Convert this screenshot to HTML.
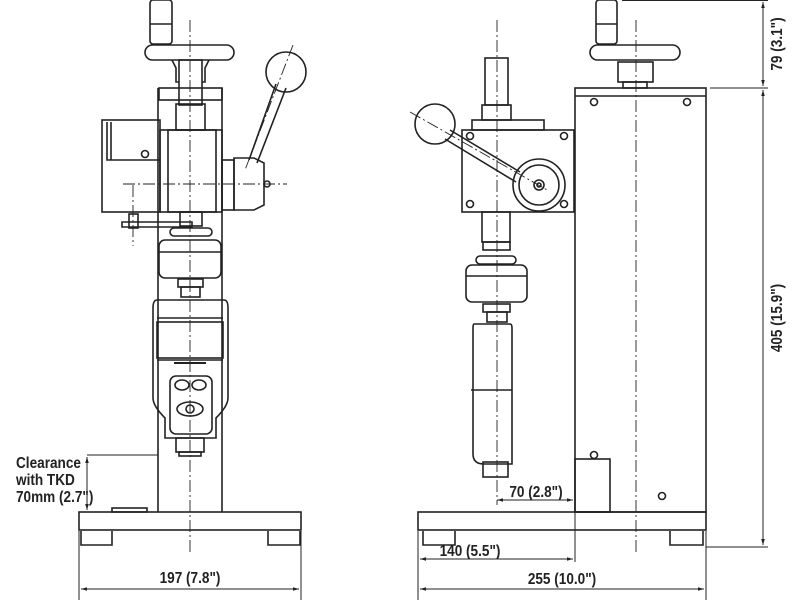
<!DOCTYPE html>
<html><head><meta charset="utf-8"><style>
html,body{margin:0;padding:0;background:#fff;width:800px;height:600px;overflow:hidden}
svg{display:block}
text{font-family:"Liberation Sans",sans-serif;font-weight:bold;fill:#222;font-size:16px}
</style></head><body>
<svg width="800" height="600" viewBox="0 0 800 600" xmlns="http://www.w3.org/2000/svg">
<defs>
<marker id="a" viewBox="0 0 10 10" refX="10" refY="5" markerWidth="6" markerHeight="6" orient="auto-start-reverse"><path d="M0,2 L10,5 L0,8 z" fill="#222"/></marker>
</defs>
<g fill="none" stroke="#222" stroke-width="1.6">
<!-- LEFT VIEW -->
<rect x="79" y="512" width="222" height="18"/>
<path d="M81 531 v14 h31 v-14 M268 531 v14 h32 v-14"/>
<rect x="112" y="508" width="35" height="4"/>
<path d="M158 88 V512 M222 88 V512"/>
<rect x="150" y="0" width="22" height="44" rx="3"/>
<line x1="150" y1="24" x2="172" y2="24"/>
<rect x="145" y="45" width="89" height="15" rx="7.5"/>
<rect x="179" y="60" width="23" height="45"/>
<path d="M172 60 l4 8 v14 h3 M209 60 l-4 8 v14 h-3"/>
<rect x="159" y="88" width="63" height="12"/>
<rect x="176" y="104" width="29" height="26"/>
<rect x="160" y="130" width="62" height="82"/>
<rect x="168" y="130" width="48" height="82"/>
<rect x="102" y="120" width="58" height="92"/>
<path d="M107 122 v38 h4 v-38 M111 160 h49"/>
<circle cx="145" cy="154" r="3.5"/>
<rect x="222" y="160" width="12" height="50"/>
<path d="M234 158 h20 l10 5 v42 l-10 5 h-20 z"/>
<circle cx="267" cy="184" r="3"/>
<path d="M249 160 L276 84 M257 163 L286 88"/>
<circle cx="286" cy="72" r="20"/>
<path d="M122 222 h70 v5 h-70 z"/>
<rect x="129" y="214" width="9" height="14"/>
<rect x="180" y="212" width="22" height="14"/>
<rect x="170" y="228" width="42" height="8" rx="4"/>
<rect x="159" y="240" width="62" height="38" rx="6"/>
<line x1="159" y1="252" x2="221" y2="252"/>
<rect x="178" y="279" width="25" height="8"/>
<rect x="181" y="287" width="19" height="10"/>
<path d="M157 300 q-4 0 -4 8 v90 q0 8 12 20 v20 h51 v-20 q12 -12 12 -20 v-90 q0 -8 -4 -8 z"/>
<rect x="157" y="322" width="66" height="36"/>
<path d="M157 318 h66 M157 360 h66"/>
<line x1="174" y1="363" x2="206" y2="363" stroke-width="2"/>
<rect x="170" y="376" width="42" height="58" rx="6"/>
<ellipse cx="182" cy="385" rx="7" ry="5"/>
<ellipse cx="199" cy="385" rx="7" ry="5"/>
<ellipse cx="190" cy="409" rx="13" ry="7"/>
<circle cx="190" cy="409" r="4"/>
<rect x="176" y="438" width="28" height="14"/>
<rect x="179" y="452" width="22" height="4"/>
<!-- LEFT DIMS -->
<path d="M87 455 H158" stroke-width="1"/>
<line x1="87" y1="457" x2="87" y2="510" stroke-width="1" marker-start="url(#a)" marker-end="url(#a)"/>
<path d="M79 531 V600 M301 531 V600" stroke-width="1"/>
<line x1="81" y1="589" x2="299" y2="589" stroke-width="1" marker-start="url(#a)" marker-end="url(#a)"/>

<!-- RIGHT VIEW -->
<rect x="418" y="512" width="288" height="18"/>
<path d="M423 531 v14 h32 v-14 M670 531 v14 h33 v-14"/>
<rect x="575" y="88" width="131" height="424"/>
<line x1="575" y1="96" x2="706" y2="96"/>
<circle cx="594" cy="102" r="3.5"/><circle cx="687" cy="102" r="3.5"/>
<circle cx="594" cy="455" r="3.5"/><circle cx="662" cy="496" r="3.5"/>
<rect x="575" y="459" width="35" height="53"/>
<rect x="596" y="0" width="21" height="44" rx="3"/>
<line x1="596" y1="24" x2="617" y2="24"/>
<rect x="590" y="45" width="90" height="15" rx="7.5"/>
<rect x="618" y="62" width="35" height="20"/>
<rect x="623" y="82" width="24" height="6"/>
<rect x="485" y="58" width="23" height="47"/>
<rect x="482" y="105" width="29" height="15"/>
<rect x="472" y="120" width="72" height="10"/>
<rect x="462" y="130" width="112" height="82"/>
<circle cx="470" cy="136" r="3.5"/><circle cx="564" cy="136" r="3.5"/>
<circle cx="470" cy="204" r="3.5"/><circle cx="564" cy="204" r="3.5"/>
<circle cx="539" cy="185" r="26"/><circle cx="539" cy="185" r="20"/>
<circle cx="539" cy="185" r="5"/><circle cx="539" cy="185" r="2"/>
<path d="M450 130 L520 172 M445 139 L516 182"/>
<circle cx="435" cy="124" r="20"/>
<rect x="482" y="212" width="28" height="30"/>
<rect x="483" y="242" width="27" height="8"/>
<rect x="476" y="256" width="40" height="8" rx="4"/>
<rect x="466" y="265" width="61" height="37" rx="6"/>
<line x1="466" y1="276" x2="527" y2="276"/>
<rect x="483" y="304" width="27" height="8"/>
<rect x="487" y="312" width="20" height="10"/>
<path d="M474 324 h36 q2 0 2 4 v136 h-28 q-11 0 -11 -10 v-126 q0 -4 1 -4 z"/>
<path d="M471 390 h41"/>
<rect x="483" y="462" width="25" height="15"/>
<!-- RIGHT DIMS -->
<line x1="497" y1="500" x2="573" y2="500" stroke-width="1" marker-start="url(#a)" marker-end="url(#a)"/>
<path d="M418 531 V600 M575 512 V562 M706 531 V600" stroke-width="1"/>
<line x1="420" y1="559" x2="573" y2="559" stroke-width="1" marker-start="url(#a)" marker-end="url(#a)"/>
<line x1="420" y1="589" x2="704" y2="589" stroke-width="1" marker-start="url(#a)" marker-end="url(#a)"/>
<path d="M622 0.5 H768 M710 88 H768 M706 547 H768" stroke-width="1"/>
<line x1="763" y1="2" x2="763" y2="86" stroke-width="1" marker-start="url(#a)" marker-end="url(#a)"/>
<line x1="763" y1="90" x2="763" y2="545" stroke-width="1" marker-start="url(#a)" marker-end="url(#a)"/>
</g>
<!-- centerlines -->
<g stroke="#222" stroke-width="0.9" stroke-dasharray="12,3,2,3" fill="none">
<line x1="190" y1="20" x2="190" y2="552"/>
<line x1="123" y1="184" x2="287" y2="184"/>
<line x1="133" y1="185" x2="133" y2="246"/>
<line x1="293" y1="45" x2="245" y2="170"/>
<line x1="497" y1="20" x2="497" y2="505"/>
<line x1="636" y1="20" x2="636" y2="552"/>
<line x1="410" y1="112" x2="549" y2="191"/>
</g>
<g font-size="14">
<text transform="translate(16,468) scale(0.85,1)">Clearance</text>
<text transform="translate(16,485) scale(0.85,1)">with TKD</text>
<text transform="translate(16,502) scale(0.85,1)">70mm (2.7")</text>
</g>
<text transform="translate(190,583) scale(0.85,1)" text-anchor="middle" font-size="18">197 (7.8")</text>
<text transform="translate(536,497) scale(0.85,1)" text-anchor="middle" font-size="17">70 (2.8")</text>
<text transform="translate(470,556) scale(0.85,1)" text-anchor="middle" font-size="17">140 (5.5")</text>
<text transform="translate(562,584) scale(0.85,1)" text-anchor="middle" font-size="18">255 (10.0")</text>
<text transform="translate(782,44) rotate(-90) scale(0.85,1)" text-anchor="middle" font-size="17">79 (3.1")</text>
<text transform="translate(782,318) rotate(-90) scale(0.85,1)" text-anchor="middle" font-size="17">405 (15.9")</text>
</svg>
</body></html>
